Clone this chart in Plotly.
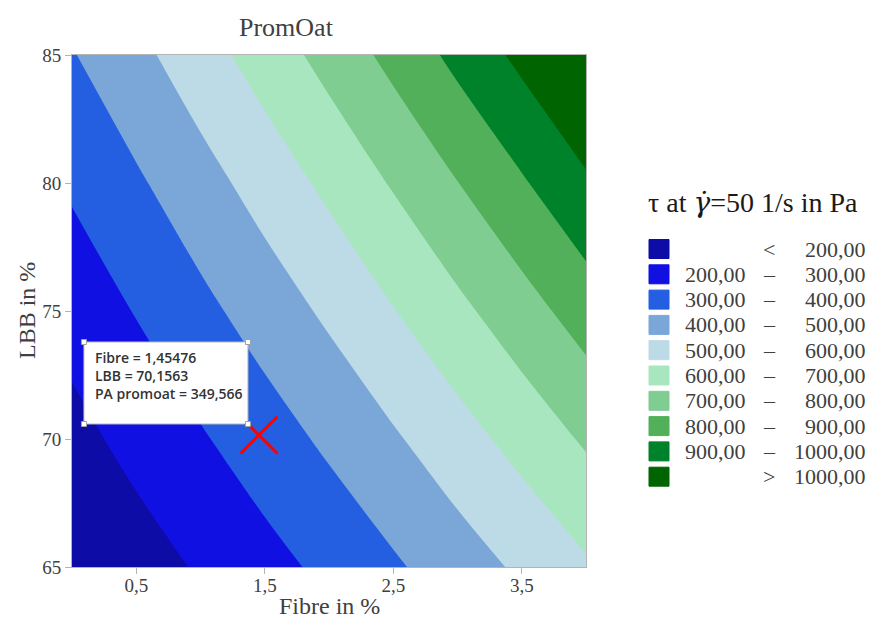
import plotly.graph_objects as go

# ---------------- data ----------------
fibre = [0.0, 0.5, 1.0, 1.5, 2.0, 2.5, 3.0, 3.5, 4.0]          # x grid, Fibre in %
lbb = [65, 70, 75, 80, 85]                                       # y grid, LBB in %
tau_65 = [100, 155, 211, 266, 324, 386, 451, 517, 587]
tau_70 = [169, 231, 290, 353, 419, 488, 560, 635, 713]
tau_75 = [239, 305, 374, 445, 518, 596, 676, 759, 846]
tau_80 = [314, 386, 462, 541, 623, 709, 798, 889, 985]
tau_85 = [394, 473, 558, 645, 735, 829, 927, 1025, 1128]

levels = [200, 300, 400, 500, 600, 700, 800, 900, 1000]
band_colors = ["#0e0ca6", "#1010e2", "#245fe2", "#7ba7d8", "#bddbe6",
               "#a8e6bf", "#80cd91", "#52b05b", "#00822a", "#006500"]

x_ticks = [0.5, 1.5, 2.5, 3.5]
x_ticktext = ["0,5", "1,5", "2,5", "3,5"]
y_ticks = [65, 70, 75, 80, 85]
y_ticktext = ["65", "70", "75", "80", "85"]

probe_fibre = [1.45476]
probe_lbb = [70.1563]
probe_value = [349.566]

title = "PromOat"
legend_title = ("τ at <span style=\"font-family:'DejaVu Serif'\"><i>γ̇</i></span>"
                "=50 1/s in Pa")

# ---------------- figure ----------------
W, H = 870, 619
L, R, T, B = 72, 284, 55, 52
PW, PH = W - L - R, H - T - B
SERIF = "Liberation Serif, Times New Roman, serif"
TXT = "#404040"


def px(xp):
    return (xp - L) / PW


def py(yp):
    return (H - B - yp) / PH


n = len(band_colors)
colorscale = [[k / (n - 1), c] for k, c in enumerate(band_colors)]

fig = go.Figure()
fig.add_trace(go.Contour(
    x=fibre, y=lbb, z=[tau_65, tau_70, tau_75, tau_80, tau_85],
    contours=dict(start=levels[0], end=levels[-1], size=levels[1] - levels[0],
                  coloring="fill", showlines=False),
    line=dict(width=0, smoothing=1.0),
    colorscale=colorscale, showscale=False, hoverinfo="skip",
))

fig.add_trace(go.Scatter(
    x=probe_fibre, y=probe_lbb, mode="markers", hoverinfo="skip", showlegend=False,
    marker=dict(symbol="x-thin", size=37, color="#ff0000",
                line=dict(width=3, color="#ff0000")),
))

shapes = []
annotations = []

# probe info box, anchored to the probe point in pixels
bx0, bx1, by0, by1 = -175, -11, 11, 93
shapes.append(dict(type="rect", xref="x", yref="y", xsizemode="pixel", ysizemode="pixel",
                   xanchor=probe_fibre[0], yanchor=probe_lbb[0],
                   x0=bx0, x1=bx1, y0=by0, y1=by1,
                   fillcolor="white", line=dict(color="#b8b8b8", width=1), layer="above"))
for cx in (bx0, bx1):
    for cy in (by0, by1):
        shapes.append(dict(type="rect", xref="x", yref="y", xsizemode="pixel", ysizemode="pixel",
                           xanchor=probe_fibre[0], yanchor=probe_lbb[0],
                           x0=cx - 2.5, x1=cx + 2.5, y0=cy - 2.5, y1=cy + 2.5,
                           fillcolor="white", line=dict(color="#a0a0a0", width=1), layer="above"))


def comma(v, nd=None):
    s = f"{v:.{nd}f}" if nd is not None else f"{v}"
    return s.replace(".", ",")


info_lines = [f"Fibre = {comma(probe_fibre[0])}",
              f"LBB = {comma(probe_lbb[0])}",
              f"PA promoat = {comma(probe_value[0])}"]
annotations.append(dict(x=probe_fibre[0], y=probe_lbb[0], xref="x", yref="y",
                        text="<br>".join(info_lines), showarrow=False,
                        xanchor="left", yanchor="top", align="left",
                        xshift=-166, yshift=89,
                        font=dict(family="Open Sans, sans-serif", size=14, color="#333333", weight=600)))

# title and axis titles
annotations.append(dict(x=px(286), y=py(27), xref="paper", yref="paper", text=title,
                        showarrow=False, xanchor="center", yanchor="middle",
                        font=dict(family=SERIF, size=26, color=TXT)))
annotations.append(dict(x=0.5, y=py(606), xref="paper", yref="paper", text="Fibre in %",
                        showarrow=False, xanchor="center", yanchor="middle",
                        font=dict(family=SERIF, size=24, color=TXT)))
annotations.append(dict(x=px(27), y=0.5, xref="paper", yref="paper", text="LBB in %",
                        showarrow=False, xanchor="center", yanchor="middle", textangle=-90,
                        font=dict(family=SERIF, size=24, color=TXT)))

# legend (custom, built from levels and colors)
annotations.append(dict(x=px(753), y=py(202), xref="paper", yref="paper", text=legend_title,
                        showarrow=False, xanchor="center", yanchor="middle",
                        font=dict(family=SERIF, size=28, color="#1a1a1a")))
row0, drow = 249, 25.3
for k, c in enumerate(band_colors):
    yc = row0 + drow * k
    shapes.append(dict(type="rect", xref="paper", yref="paper",
                       x0=px(649), x1=px(669), y0=py(yc + 9.5), y1=py(yc - 9.5),
                       fillcolor=c, line=dict(color=c, width=1)))
    if k == 0:
        left, mid, right = "", "<", comma(levels[0], 2)
    elif k == n - 1:
        left, mid, right = "", ">", comma(levels[-1], 2)
    else:
        left, mid, right = comma(levels[k - 1], 2), "–", comma(levels[k], 2)
    for xpos, txt, anc in ((748, left, "right"), (769, mid, "center"), (868, right, "right")):
        if txt:
            annotations.append(dict(x=px(xpos), y=py(yc), xref="paper", yref="paper", text=txt,
                                    showarrow=False, xanchor=anc, yanchor="middle",
                                    font=dict(family=SERIF, size=22, color=TXT)))

axis_common = dict(showline=True, mirror=True, linecolor="#b4b4b4", linewidth=1,
                   ticks="outside", ticklen=6, tickcolor="#b4b4b4", showgrid=False, zeroline=False,
                   tickfont=dict(family=SERIF, size=19, color=TXT))

fig.update_layout(
    width=W, height=H, margin=dict(l=L, r=R, t=T, b=B),
    paper_bgcolor="white", plot_bgcolor="white",
    xaxis=dict(range=[fibre[0], fibre[-1]], tickvals=x_ticks, ticktext=x_ticktext,
               ticklabelstandoff=-5, **axis_common),
    yaxis=dict(range=[lbb[0], lbb[-1]], tickvals=y_ticks, ticktext=y_ticktext, **axis_common),
    shapes=shapes, annotations=annotations, showlegend=False, hovermode=False,
)

fig.write_html("out.html")
